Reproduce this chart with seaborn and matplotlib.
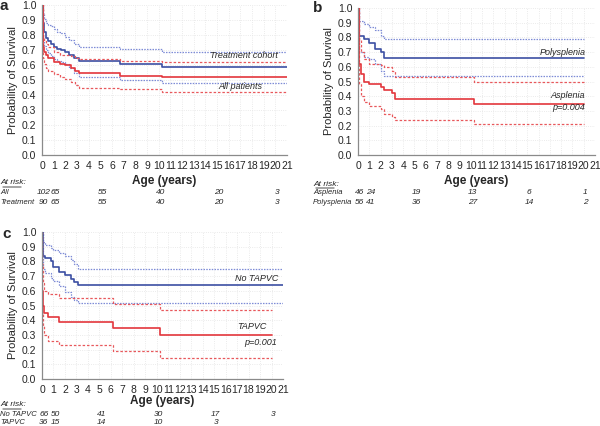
import pandas as pd
import matplotlib
matplotlib.use("Agg")
import matplotlib.pyplot as plt
import matplotlib.transforms as mtransforms
import seaborn as sns

# ---- data (step curves: time, survival) ----
# panel a
a_treat_t = [0, 0.05, 0.15, 0.3, 0.5, 0.8, 1.0, 1.3, 1.6, 2.0, 2.3, 2.7, 3.2, 6.7, 10.3, 21]
a_treat_s = [1.0, 0.88, 0.82, 0.78, 0.76, 0.74, 0.72, 0.71, 0.70, 0.69, 0.67, 0.65, 0.625, 0.61, 0.59, 0.59]
a_treat_hi = [1.0, 0.95, 0.91, 0.88, 0.87, 0.86, 0.84, 0.82, 0.81, 0.79, 0.77, 0.74, 0.72, 0.71, 0.69, 0.69]
a_treat_lo = [1.0, 0.78, 0.73, 0.70, 0.68, 0.66, 0.64, 0.63, 0.62, 0.61, 0.58, 0.55, 0.52, 0.50, 0.48, 0.48]
a_all_t = [0, 0.05, 0.15, 0.3, 0.5, 1.0, 1.5, 2.0, 2.5, 2.8, 3.2, 6.7, 10.3, 21]
a_all_s = [1.0, 0.72, 0.69, 0.67, 0.65, 0.62, 0.61, 0.60, 0.58, 0.56, 0.545, 0.53, 0.52, 0.52]
a_all_hi = [1.0, 0.78, 0.76, 0.74, 0.72, 0.69, 0.67, 0.665, 0.66, 0.65, 0.64, 0.63, 0.62, 0.62]
a_all_lo = [1.0, 0.65, 0.61, 0.58, 0.56, 0.54, 0.52, 0.51, 0.49, 0.47, 0.45, 0.44, 0.42, 0.42]

# panel b
b_poly_t = [0, 0.1, 0.5, 1.0, 1.5, 2.0, 2.3, 20]
b_poly_s = [1.0, 0.81, 0.79, 0.76, 0.72, 0.70, 0.66, 0.66]
b_poly_hi = [1.0, 0.91, 0.89, 0.87, 0.85, 0.81, 0.79, 0.79]
b_poly_lo = [1.0, 0.70, 0.67, 0.65, 0.62, 0.57, 0.54, 0.54]
b_asp_t = [0, 0.1, 0.3, 0.5, 1.0, 2.0, 2.3, 3.0, 3.3, 10.3, 20]
b_asp_s = [1.0, 0.62, 0.55, 0.50, 0.48, 0.46, 0.44, 0.42, 0.38, 0.35, 0.35]
b_asp_hi = [1.0, 0.78, 0.70, 0.65, 0.62, 0.61, 0.60, 0.57, 0.53, 0.50, 0.50]
b_asp_lo = [1.0, 0.48, 0.40, 0.36, 0.33, 0.31, 0.28, 0.26, 0.24, 0.21, 0.21]

# panel c
c_no_t = [0, 0.05, 0.3, 0.8, 1.0, 1.5, 2.0, 2.5, 2.8, 3.1, 21]
c_no_s = [1.0, 0.84, 0.82, 0.80, 0.76, 0.73, 0.71, 0.68, 0.66, 0.64, 0.64]
c_no_hi = [1.0, 0.93, 0.91, 0.89, 0.88, 0.86, 0.84, 0.81, 0.78, 0.75, 0.75]
c_no_lo = [1.0, 0.75, 0.72, 0.69, 0.67, 0.63, 0.59, 0.56, 0.54, 0.52, 0.52]
c_tap_t = [0, 0.03, 0.1, 0.2, 0.5, 1.5, 6.2, 10.3, 20]
c_tap_s = [1.0, 0.60, 0.50, 0.45, 0.42, 0.39, 0.35, 0.30, 0.30]
c_tap_hi = [1.0, 0.78, 0.65, 0.60, 0.58, 0.55, 0.51, 0.47, 0.47]
c_tap_lo = [1.0, 0.45, 0.36, 0.30, 0.26, 0.23, 0.19, 0.14, 0.14]

# number at risk
risk_times = [0, 1, 5, 10, 15, 20]
a_risk = {"All": [102, 65, 55, 40, 20, 3], "Treatment": [90, 65, 55, 40, 20, 3]}
b_risk = {"Asplenia": [46, 24, 19, 13, 6, 1], "Polysplenia": [56, 41, 36, 27, 14, 2]}
c_risk = {"No TAPVC": [66, 50, 41, 30, 17, 3], "TAPVC": [36, 15, 14, 10, 3, None]}

BLUE = "#3c4fa3"
BLUE_CI = "#7d8bd6"
RED = "#e3363c"
RED_CI = "#e8585c"

sns.set_style("white")
plt.rcParams["font.family"] = ["Liberation Sans", "DejaVu Sans"]

fig = plt.figure(figsize=(6.0, 4.26), dpi=100)
W, H = 600.0, 426.0


def box(l, t, r, b):
    return [l / W, 1 - b / H, (r - l) / W, (b - t) / H]


def steps(ax, t, s, color, ls, lw):
    df = pd.DataFrame({"t": t, "s": s})
    sns.lineplot(data=df, x="t", y="s", color=color, linestyle=ls, linewidth=lw,
                 drawstyle="steps-post", estimator=None, sort=False, ax=ax)


def panel(ax, curves):
    for t, s, hi, lo, col, cicol in curves:
        ci_ls = (0, (1.2, 1.0)) if col == BLUE else (0, (2.0, 1.5))
        steps(ax, t, hi, cicol, ci_ls, 0.9)
        steps(ax, t, lo, cicol, ci_ls, 0.9)
        steps(ax, t, s, col, "-", 1.2)
    ax.set_xlim(0, 21)
    ax.set_ylim(0, 1.0)
    ax.set_xticks(range(0, 22))
    ax.set_yticks([i / 10 for i in range(11)])
    ax.set_yticklabels([f"{i / 10:.1f}" for i in range(11)])
    ax.tick_params(axis="both", labelsize=7.5, length=2, width=0.6, color="#888888", pad=2)
    ax.tick_params(axis="x", direction="in", pad=4)
    ax.grid(True, color="#e4e4e4", linestyle=":", linewidth=0.6)
    for side in ["top", "right"]:
        ax.spines[side].set_visible(False)
    for side in ["left", "bottom"]:
        ax.spines[side].set_color("#8a8a8a")
        ax.spines[side].set_linewidth(0.9)
    ax.set_xlabel("")
    ax.set_ylabel("Probability of Survival", fontsize=8, labelpad=3)


def risk_table(ax, risk, label_x, y_head, y_rows, xlabel_y):
    tr = mtransforms.blended_transform_factory(ax.transData, fig.transFigure)
    fig.text(label_x / W, 1 - y_head / H, "At risk:", fontsize=6, style="italic",
             ha="left", va="center")
    ax.annotate("", xy=((label_x + 24) / W, 1 - (y_head + 4) / H),
                xytext=(label_x / W, 1 - (y_head + 4) / H), xycoords="figure fraction",
                arrowprops=dict(arrowstyle="-", lw=0.5, color="black"))
    for (name, vals), y in zip(risk.items(), y_rows):
        fig.text(label_x / W, 1 - y / H, name, fontsize=5.5, style="italic",
                 ha="left", va="center")
        for tt, v in zip(risk_times, vals):
            if v is None:
                continue
            ax.text(tt + 0.15, 1 - y / H, str(v), transform=tr, fontsize=6, style="italic",
                    ha="center", va="center", clip_on=False)
    ax.text(10.5, 1 - xlabel_y / H, "Age (years)", transform=tr, fontsize=8.5,
            fontweight="bold", ha="center", va="center", clip_on=False)


def letter(txt, x, y):
    fig.text(x / W, 1 - y / H, txt, fontsize=11, fontweight="bold", ha="left", va="baseline")


# panel a
ax_a = fig.add_axes(box(42, 5, 287, 155))
panel(ax_a, [(a_treat_t, a_treat_s, a_treat_hi, a_treat_lo, BLUE, BLUE_CI),
             (a_all_t, a_all_s, a_all_hi, a_all_lo, RED, RED_CI)])
ax_a.text(20.2, 0.66, "Treatment cohort", fontsize=6.5, style="italic", ha="right", va="center")
ax_a.text(18.9, 0.455, "All patients", fontsize=6.5, style="italic", ha="right", va="center")
risk_table(ax_a, a_risk, 0, 183, [193, 203], 181)
letter("a", 0, 10)

# panel b
ax_b = fig.add_axes(box(358, 8, 595, 155))
panel(ax_b, [(b_poly_t, b_poly_s, b_poly_hi, b_poly_lo, BLUE, BLUE_CI),
             (b_asp_t, b_asp_s, b_asp_hi, b_asp_lo, RED, RED_CI)])
ax_b.text(20.2, 0.70, "Polysplenia", fontsize=6.5, style="italic", ha="right", va="center")
ax_b.text(20.1, 0.405, "Asplenia", fontsize=6.5, style="italic", ha="right", va="center")
ax_b.text(20.1, 0.32, "p=0.004", fontsize=6.5, style="italic", ha="right", va="center")
risk_table(ax_b, b_risk, 313, 184, [193, 203], 181)
letter("b", 313, 12.5)

# panel c
ax_c = fig.add_axes(box(42, 232, 283, 379))
panel(ax_c, [(c_no_t, c_no_s, c_no_hi, c_no_lo, BLUE, BLUE_CI),
             (c_tap_t, c_tap_s, c_tap_hi, c_tap_lo, RED, RED_CI)])
ax_c.text(20.6, 0.685, "No TAPVC", fontsize=6.5, style="italic", ha="right", va="center")
ax_c.text(19.6, 0.355, "TAPVC", fontsize=6.5, style="italic", ha="right", va="center")
ax_c.text(20.5, 0.25, "p=0.001", fontsize=6.5, style="italic", ha="right", va="center")
risk_table(ax_c, c_risk, 0, 405, [414, 423], 401)
letter("c", 2, 238)

fig.savefig("out.png", dpi=100)
